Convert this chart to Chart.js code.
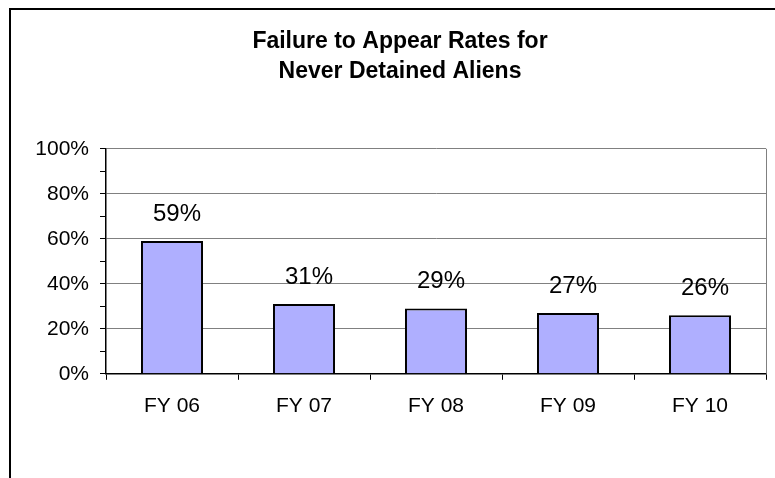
<!DOCTYPE html>
<html>
<head>
<meta charset="utf-8">
<script src="https://cdn.jsdelivr.net/npm/chart.js@4.4.1/dist/chart.umd.min.js"></script>
<style>
  html, body { margin: 0; padding: 0; background: #fff; }
  #wrap { width: 775px; height: 478px; }
</style>
</head>
<body>
<div id="wrap"><canvas id="myChart" width="775" height="478"></canvas></div>
<script>
const fiscalYears = ['FY 06', 'FY 07', 'FY 08', 'FY 09', 'FY 10'];
const failureRates = [59, 31, 29, 27, 26];
const titleLines = ['Failure to Appear Rates for', 'Never Detained Aliens'];

const FONT = 'Arial, "Liberation Sans", sans-serif';

// outer frame (only top and left edges are visible in the original) + right border of plot
const framePlugin = {
  id: 'frame',
  beforeDraw(chart) {
    const c = chart.ctx;
    c.save();
    c.strokeStyle = '#000';
    c.lineWidth = 2;
    c.beginPath();
    c.moveTo(10, 490);
    c.lineTo(10, 9);
    c.lineTo(790, 9);
    c.stroke();
    c.restore();
  },
  afterDraw(chart) {
    const a = chart.chartArea;
    const c = chart.ctx;
    c.save();
    c.strokeStyle = '#808080';
    c.lineWidth = 1;
    c.beginPath();
    c.moveTo(a.right + 0.5, a.top);
    c.lineTo(a.right + 0.5, a.bottom);
    c.stroke();
    c.restore();
  }
};

// value labels above the bars
const valueLabels = {
  id: 'valueLabels',
  afterDatasetsDraw(chart) {
    const c = chart.ctx;
    const meta = chart.getDatasetMeta(0);
    c.save();
    c.font = '24px ' + FONT;
    c.fillStyle = '#000';
    c.textAlign = 'center';
    c.textBaseline = 'middle';
    meta.data.forEach((bar, i) => {
      c.fillText(failureRates[i] + '%', bar.x + 5, bar.y - 27);
    });
    c.restore();
  }
};

const config = {
  type: 'bar',
  data: {
    labels: fiscalYears,
    datasets: [{
      data: failureRates,
      backgroundColor: '#AFAFFF',
      borderColor: '#000',
      borderWidth: 2,
      barPercentage: 0.47,
      categoryPercentage: 1
    }]
  },
  options: {
    responsive: false,
    animation: false,
    layout: {
      padding: { top: 0, left: 34, right: 9, bottom: 45 }
    },
    scales: {
      x: {
        grid: {
          offset: true,
          color: 'rgba(0,0,0,0)',
          tickColor: '#000',
          tickLength: 6
        },
        border: { color: '#000', width: 1.5 },
        ticks: {
          color: '#000',
          padding: 14,
          font: { family: FONT, size: 21 }
        }
      },
      y: {
        min: 0,
        max: 100,
        afterFit(scale) { scale.width = 72; },
        grid: {
          color: (ctx) => (ctx.tick && ctx.tick.value > 0 && ctx.tick.value % 20 === 0) ? '#808080' : 'rgba(0,0,0,0)',
          tickColor: '#000',
          tickLength: 6
        },
        border: { color: '#000', width: 1.5 },
        ticks: {
          stepSize: 10,
          autoSkip: false,
          color: '#000',
          padding: 11,
          font: { family: FONT, size: 21 },
          callback: (v) => v % 20 === 0 ? v + '%' : ''
        }
      }
    },
    plugins: {
      legend: { display: false },
      tooltip: { enabled: false },
      title: {
        display: true,
        text: titleLines,
        color: '#000',
        font: { family: FONT, size: 23, weight: 'bold', lineHeight: 1.3 },
        padding: { top: 27, bottom: 62 }
      }
    }
  },
  plugins: [framePlugin, valueLabels]
};

var myChart = new Chart(
  document.getElementById('myChart'),
  config
);
</script>
</body>
</html>
